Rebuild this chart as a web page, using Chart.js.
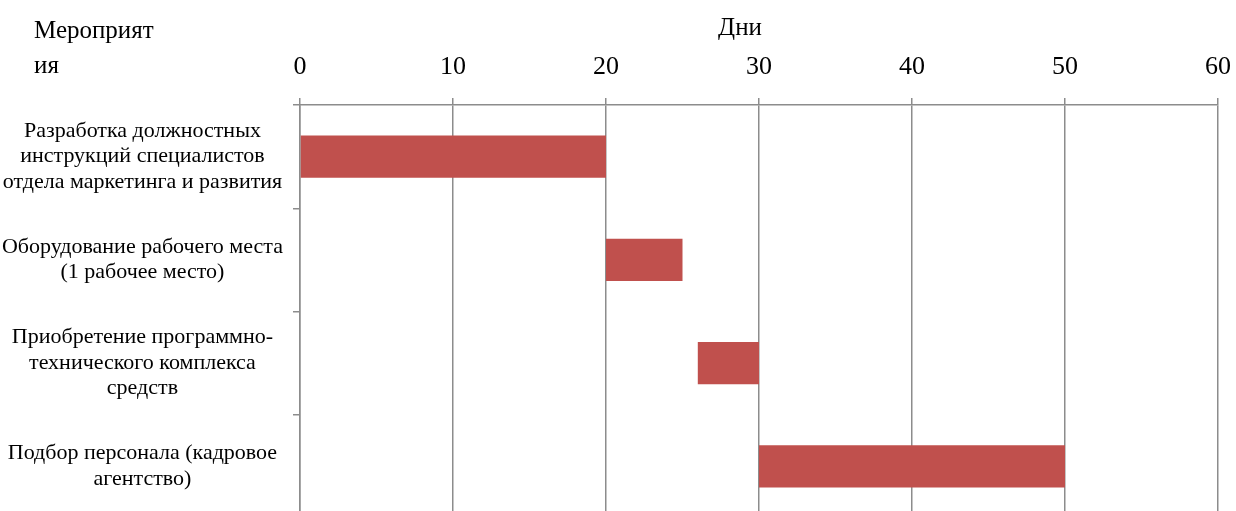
<!DOCTYPE html>
<html>
<head>
<meta charset="utf-8">
<script src="https://cdn.jsdelivr.net/npm/chart.js@4/dist/chart.umd.min.js"></script>
<style>
  html, body { margin: 0; padding: 0; background: #fff; overflow: hidden; }
  canvas { display: block; }
</style>
</head>
<body>
<canvas id="gantt" width="1236" height="518"></canvas>
<script>
// Tasks (categories) and their start / end day
const tasks = [
    ['Разработка должностных', 'инструкций специалистов', 'отдела маркетинга и развития'],
    ['Оборудование рабочего места', '(1 рабочее место)'],
    ['Приобретение программно-', 'технического комплекса', 'средств'],
    ['Подбор персонала (кадровое', 'агентство)']
];
const startDays = [0, 20, 26, 30];
const endDays = [20, 25, 30, 50];

// Axis settings
const dayMin = 0;
const dayMax = 60;
const dayStep = 10;

const serif = '"Liberation Serif", "Times New Roman", serif';
const gridColor = '#8c8c8c';

// Axis captions: "Мероприятия" in the corner, "Дни" above the day ticks
const captions = {
    id: 'captions',
    afterDraw(chart) {
        const ctx = chart.ctx;
        ctx.save();
        ctx.font = '25px ' + serif;
        ctx.fillStyle = '#000';
        ctx.textBaseline = 'middle';
        ctx.textAlign = 'left';
        ctx.fillText('Мероприят', 34, 31);
        ctx.fillText('ия', 34, 66);
        ctx.textAlign = 'center';
        ctx.fillText('Дни', 740, 28);
        ctx.restore();
    }
};

const ctx = document.getElementById('gantt').getContext('2d');
new Chart(ctx, {
    type: 'bar',
    data: {
        labels: tasks,
        datasets: [{
            data: startDays.map((s, i) => [s, endDays[i]]),
            backgroundColor: '#c0504d',
            borderWidth: 0,
            barPercentage: 0.41,
            categoryPercentage: 1
        }]
    },
    options: {
        indexAxis: 'y',
        responsive: false,
        animation: false,
        layout: { padding: { top: 0, right: 18, bottom: 0, left: 0 } },
        plugins: {
            legend: { display: false },
            tooltip: { enabled: false }
        },
        scales: {
            x: {
                position: 'top',
                min: dayMin,
                max: dayMax,
                ticks: {
                    stepSize: dayStep,
                    color: '#000',
                    font: { family: serif, size: 26 },
                    padding: 15
                },
                grid: { color: gridColor, lineWidth: 1.5, tickLength: 7, tickColor: gridColor },
                border: { color: gridColor, width: 1.5 },
                afterFit(scale) {
                    scale.height = 105;
                    scale.paddingLeft = 0;
                    scale.paddingRight = 0;
                }
            },
            y: {
                ticks: {
                    crossAlign: 'center',
                    color: '#000',
                    font: { family: serif, size: 22, lineHeight: 1.16 },
                    padding: 10
                },
                grid: { drawOnChartArea: false, offset: true, tickLength: 7, color: gridColor, lineWidth: 1.5 },
                border: { color: gridColor, width: 1.5 },
                afterFit(scale) {
                    scale.width = 300;
                    scale.paddingTop = 0;
                    scale.paddingBottom = 0;
                }
            }
        }
    },
    plugins: [captions]
});
</script>
</body>
</html>
